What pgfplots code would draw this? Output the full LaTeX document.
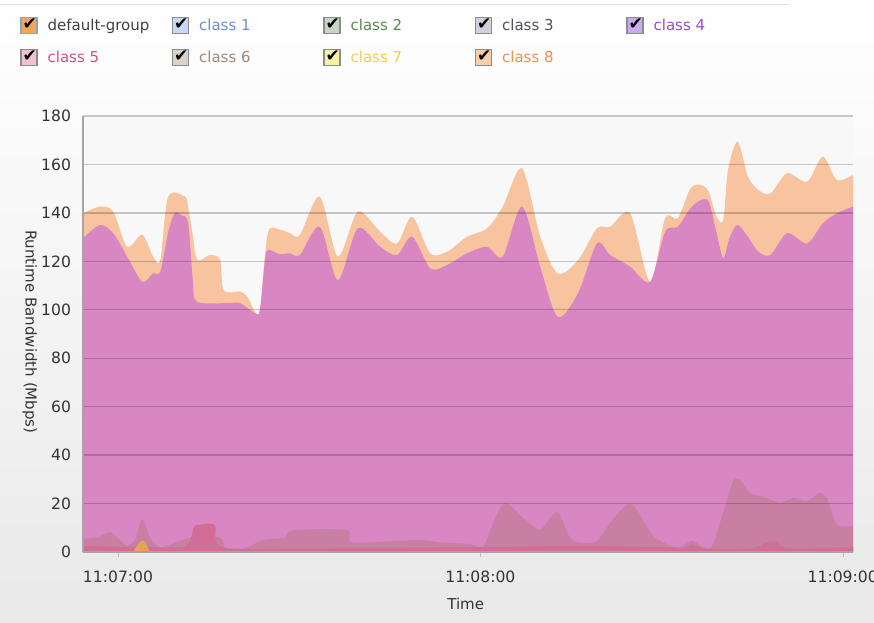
\documentclass[border=0pt]{standalone}
\usepackage{fontspec}
\setmainfont{DejaVu Sans}
\usepackage{pgfplots}
\usepackage{pgfplotstable}
\pgfplotsset{compat=1.18}

\definecolor{peach}{HTML}{F8C49F}
\definecolor{magenta4}{HTML}{D887C3}
\definecolor{mauve6}{HTML}{C97FA3}
\definecolor{pink5}{HTML}{D46C98}
\definecolor{orange7}{HTML}{E8A24E}
\definecolor{labelgray}{HTML}{333333}
\definecolor{boxgray}{HTML}{8C8C8C}

\pgfplotstableread{
x y
-5.8 139.8
-3.0 142.6
-0.8 140.5
1.5 126
4.0 131
5.8 122
7.0 120.6
8.3 146.7
11.1 146.7
11.6 142.6
12.3 132
13.1 120.6
15.2 122.6
16.9 120.6
17.5 108
20.2 107.5
21.4 105.4
22.7 99.2
23.5 100
24.8 131.6
26.8 133
28.5 131.6
30.1 130.9
33.4 146.7
36.4 122
39.7 140.5
43.4 132.2
46.2 127.4
48.7 138.4
51.7 123.3
54.5 124
57.8 130.2
61.1 133.6
63.7 142.6
66.9 158.4
69.9 130.2
72.8 115
76.2 120.6
79.3 133.6
81.5 134.3
84.8 139.8
88.1 111.6
90.6 137.8
92.7 137.8
94.8 150.2
96.5 151.5
97.8 148.8
99.0 139
100.2 137
101.0 157.7
102.6 169.4
104.3 155
106.0 149.5
108.0 148
110.8 156.4
114.1 152.9
116.7 163.2
119.0 153.6
121.7 155.7
}\classeight

\pgfplotstableread{
x y
-5.8 129.5
-3.0 135
-0.8 131.6
1.5 122
4.0 111.6
5.8 115
7.0 115.7
8.3 132
9.4 140
10.5 139
11.6 135.8
12.4 112
13.1 103.3
18.5 102.8
20.2 102.8
22.7 98.6
23.5 100
24.3 120
24.8 124.7
26.8 123
28.5 123.3
30.1 122.6
33.4 134.3
36.4 112.3
39.7 133.6
43.4 126
46.2 122.6
48.7 130.2
51.7 117.1
54.5 118.5
57.8 123.3
61.1 126
63.7 122
66.9 142.6
69.9 117.8
72.8 97.1
76.2 107
79.3 127.4
81.5 122.6
84.8 117.8
88.1 111.6
90.6 132.2
92.7 134.3
94.8 142
96.5 145.3
97.8 144.6
99.0 133
100.2 121.4
101.3 130
102.6 135
104.3 130.2
106.0 124
108.0 122.6
110.8 131.6
114.1 127.4
116.7 135.7
119.0 139.8
121.7 142.6
}\classfour

\pgfplotstableread{
x y
-5.8 5.3
-3.0 6.5
-1.3 8.2
0.3 5
1.5 2.6
2.8 5
4.0 13.5
5.3 6
7.0 1.9
10.3 4.6
12.4 6
16.9 6
18.0 0.6
21.0 1.5
23.5 4.5
24.7 5.3
27.6 6
29.0 9
37.9 9
38.9 4
49.5 5
53.3 4
58.3 3.3
60.4 1.9
62.1 12
64.1 20.3
67.1 14.1
69.9 9.4
72.7 16.6
74.8 6
76.5 3.9
79.3 4.6
81.9 13.5
84.8 20
86.9 13.5
88.6 6.7
91.4 2.6
93.0 1.9
95.2 4.6
98.0 1.2
100.2 16.2
101.8 29
103.0 29.8
104.6 24.4
107.5 22.3
109.6 20.3
111.8 22.3
114.1 21
116.2 24.4
117.5 21.6
119.0 11.4
121.2 10.7
121.7 10.7
}\classsix

\pgfplotstableread{
x y
-5.8 2.5
5.0 2
11.2 2.5
12.6 10.5
13.5 11.2
16.0 11.2
17.3 2
30.0 1.5
60.0 2
75.0 2.5
90.0 2
93.5 1.5
95.2 3
97.0 1.5
105.0 1.5
107.0 3.5
109.0 4
111.0 1.5
121.7 2
}\classfive

\pgfplotstableread{
x y
2.5 0
3.6 4
4.3 4.6
5.3 0
}\classseven

\begin{document}
\begin{tikzpicture}
\useasboundingbox (0,0) rectangle (437pt,311pt);
\shade[top color=white, bottom color={rgb,255:red,233;green,233;blue,233}] (0,0) rectangle (437pt,311pt);
\draw[black!12, line width=0.5pt] (0,308.5pt) -- (395pt,308.5pt);
\begin{axis}[
  at={(41.5pt,35pt)}, anchor=south west,
  scale only axis, width=385pt, height=218pt,
  xmin=-5.8, xmax=121.7, ymin=0, ymax=180,
  xtick={0,60,120}, xticklabels={11:07:00,11:08:00,11:09:00},
  ytick={0,20,...,180},
  ymajorgrids,
  major grid style={black, opacity=0.2, line width=0.7pt},
  axis on top,
  axis x line*=bottom, axis y line*=left,
  axis line style={-, draw={rgb,255:red,165;green,165;blue,165}, line width=1pt},
  axis background/.style={fill={rgb,255:red,248;green,248;blue,248}},
  tick align=outside,
  major tick length=2.5pt,
  xtick style={draw=black!25},
  ytick style={draw=none},
  /pgf/number format/assume math mode=true,
  ticklabel style={font=\fontsize{7.8}{9}\selectfont, text=labelgray},
  xticklabel style={yshift=-3.5pt},
  xlabel={Time}, ylabel={Runtime Bandwidth (Mbps)},
  label style={font=\fontsize{7.5}{9}\selectfont, text=labelgray},
  xlabel style={at={(axis description cs:0.497,-0.119)}, anchor=center},
  ylabel style={at={(axis description cs:-0.069,0.505)}, anchor=center, rotate=180},
  legend columns=5,
  legend cell align=left,
  legend style={at={(axis description cs:-0.0818,1.229)}, anchor=north west,
    draw=none, fill=none, inner sep=0pt,
    nodes={inner sep=0pt, text depth=0pt, font=\fontsize{7.5}{9}\selectfont},
    /tikz/every odd column/.append style={column sep=5pt},
    row sep=7.4pt},
  legend image code/.code={
    \filldraw[#1, line width=0.6pt] (0pt,-4pt) rectangle (8pt,4pt);
    \node[anchor=center, inner sep=0pt, text=black, font=\fontsize{8.5}{9}\selectfont] at (4.4pt,0.5pt) {✔};
  },
]
\addplot[fill=peach, draw=none, smooth, forget plot] table {\classeight} \closedcycle;
\addplot[fill=magenta4, draw=none, smooth, forget plot] table {\classfour} \closedcycle;
\addplot[fill=mauve6, draw=none, smooth, forget plot] table {\classsix} \closedcycle;
\addplot[fill=pink5, draw=none, smooth, forget plot] table {\classfive} \closedcycle;
\addplot[fill=orange7, draw=none, smooth, forget plot] table {\classseven} \closedcycle;

\addlegendimage{draw={rgb,255:red,140;green,165;blue,190}, fill={rgb,255:red,245;green,165;blue,90}}
\addlegendentry{\makebox[62.15pt][l]{\textcolor[HTML]{404040}{default-group}}}
\addlegendimage{draw=boxgray, fill={rgb,255:red,200;green,215;blue,245}}
\addlegendentry{\makebox[62.15pt][l]{\textcolor[HTML]{6B8DD6}{class 1}}}
\addlegendimage{draw=boxgray, fill={rgb,255:red,200;green,213;blue,195}}
\addlegendentry{\makebox[62.15pt][l]{\textcolor[HTML]{5A8A50}{class 2}}}
\addlegendimage{draw=boxgray, fill={rgb,255:red,208;green,208;blue,218}}
\addlegendentry{\makebox[62.15pt][l]{\textcolor[HTML]{505060}{class 3}}}
\addlegendimage{draw=boxgray, fill={rgb,255:red,205;green,170;blue,240}}
\addlegendentry{\makebox[62.15pt][l]{\textcolor[HTML]{A048D8}{class 4}}}
\addlegendimage{draw=boxgray, fill={rgb,255:red,240;green,195;blue,210}}
\addlegendentry{\makebox[62.15pt][l]{\textcolor[HTML]{D8507C}{class 5}}}
\addlegendimage{draw=boxgray, fill={rgb,255:red,218;green,210;blue,200}}
\addlegendentry{\makebox[62.15pt][l]{\textcolor[HTML]{A08A78}{class 6}}}
\addlegendimage{draw=boxgray, fill={rgb,255:red,248;green,240;blue,165}}
\addlegendentry{\makebox[62.15pt][l]{\textcolor[HTML]{F0D048}{class 7}}}
\addlegendimage{draw=boxgray, fill={rgb,255:red,248;green,205;blue,170}}
\addlegendentry{\makebox[62.15pt][l]{\textcolor[HTML]{F0904C}{class 8}}}
\end{axis}
\end{tikzpicture}
\end{document}
